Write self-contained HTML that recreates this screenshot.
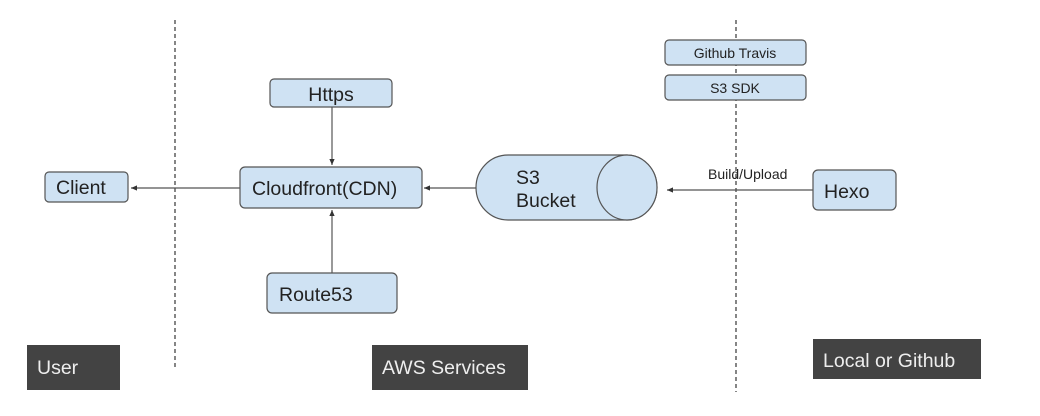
<!DOCTYPE html>
<html><head><style>body{margin:0;background:#fff}svg{display:block}text{font-family:"Liberation Sans",sans-serif;fill:#222}</style></head><body>
<svg width="1040" height="416" xmlns="http://www.w3.org/2000/svg">
<defs><marker id="a" markerWidth="6" markerHeight="6" refX="5" refY="3" orient="auto"><path d="M0,0.8 L5,3 L0,5.2z" fill="#333"/></marker></defs>
<g stroke="#444" stroke-width="1.3" stroke-dasharray="4,3"><line x1="175" y1="20" x2="175" y2="370"/><line x1="736" y1="20" x2="736" y2="392"/></g>
<g stroke="#555" stroke-width="1.2" fill="none" marker-end="url(#a)">
<line x1="240" y1="188" x2="131" y2="188"/><line x1="476" y1="188" x2="424" y2="188"/><line x1="813" y1="190" x2="667" y2="190"/>
<line x1="332" y1="107" x2="332" y2="165"/><line x1="332" y1="273" x2="332" y2="210"/></g>
<g fill="#cfe2f3" stroke="#555" stroke-width="1.2">
<rect x="45" y="172" width="83" height="30" rx="4"/>
<rect x="240" y="167" width="182" height="41" rx="5"/>
<rect x="270" y="79" width="122" height="28" rx="4"/>
<rect x="267" y="273" width="130" height="40" rx="5"/>
<rect x="665" y="40" width="141" height="25" rx="4"/>
<rect x="665" y="75" width="141" height="25" rx="4"/>
<rect x="813" y="170" width="83" height="40" rx="5"/>
<path d="M508,155 L627,155 A30,32.5 0 0 1 627,220 L508,220 A32,32.5 0 0 1 508,155z"/>
<ellipse cx="627" cy="187.5" rx="30" ry="32.5"/>
</g>
<g font-size="19.5">
<text x="56" y="194">Client</text>
<text x="252" y="195">Cloudfront(CDN)</text>
<text x="331" y="101" text-anchor="middle">Https</text>
<text x="279" y="301">Route53</text>
<text x="824" y="198">Hexo</text>
<text x="516" y="184">S3</text>
<text x="516" y="207">Bucket</text>
</g>
<text x="735" y="58" font-size="14" text-anchor="middle">Github Travis</text>
<text x="735" y="93" font-size="14" text-anchor="middle">S3 SDK</text>
<text x="708" y="179" font-size="14">Build/Upload</text>
<rect x="27" y="345" width="93" height="45" fill="#434343"/>
<rect x="372" y="345" width="156" height="45" fill="#434343"/>
<rect x="813" y="339" width="168" height="40" fill="#434343"/>
<g font-size="19.5" style="fill:#eee">
<text x="37" y="374" style="fill:#eee">User</text>
<text x="382" y="374" style="fill:#eee">AWS Services</text>
<text x="823" y="367" style="fill:#eee">Local or Github</text>
</g>
</svg>
</body></html>
